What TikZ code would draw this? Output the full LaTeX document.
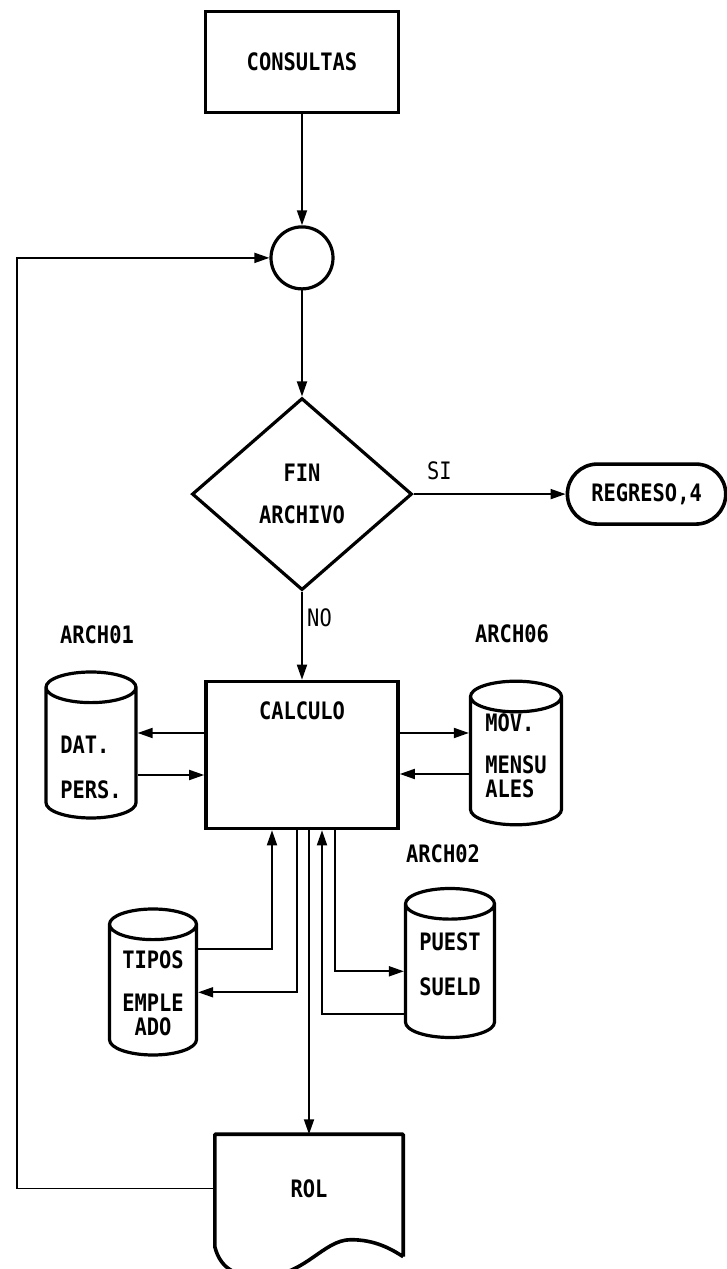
\documentclass[tikz,border=0pt]{standalone}
\usepackage{fontspec}
\usepackage{tikz}
\usetikzlibrary{arrows.meta,positioning,shapes.geometric,shapes.misc}
\newfontfamily\dotfont{DejaVu Sans Mono}[FakeStretch=0.85]

\begin{document}
\begin{tikzpicture}[x=1pt,y=1pt,
  every node/.style={font=\dotfont\bfseries\fontsize{24}{20}\selectfont,align=center},
  procbox/.style={draw,line width=3.6pt,rectangle},
  disk/.style={draw,line width=3.2pt,cylinder,shape border rotate=90,aspect=0.45},
  archlbl/.style={inner sep=0pt},
  flow/.style={line width=1.8pt,-{Triangle[length=15pt,width=10pt]}},
  answer/.style={font=\dotfont\fontsize{24}{20}\selectfont}]
\useasboundingbox (0,0) rectangle (727,1269);
% main column
\node[procbox,minimum width=193pt,minimum height=101pt] (consultas) at (302,1207) {CONSULTAS};
\node[circle,draw,line width=3.2pt,minimum size=62pt,inner sep=0pt,below=111pt of consultas] (junction) {};
\node[diamond,draw,line width=3.2pt,minimum width=220pt,minimum height=192pt,below=106pt of junction] (fin) {FIN\\[22pt]ARCHIVO};
\node[rounded rectangle,draw,line width=3.6pt,minimum width=165pt,minimum height=60pt,right=152pt of fin] (regreso) {REGRESO,4};
\node[procbox,minimum width=192pt,inner ysep=12pt,text height=26pt,text depth=97pt,below=88pt of fin] (calculo) {CALCULO};
\node[minimum width=188pt,minimum height=108pt,below=304pt of calculo,xshift=7pt] (rol) {ROL};
\draw[line width=3.6pt,line join=round] ([yshift=-14pt]rol.south east) -- (rol.north east) -- (rol.north west) -- ([yshift=-4pt]rol.south west)
  .. controls ([xshift=6pt,yshift=-28pt]rol.south west) and ([xshift=24pt,yshift=-34pt]rol.south west) .. ([xshift=46pt,yshift=-34pt]rol.south west)
  .. controls ([xshift=90pt,yshift=-34pt]rol.south west) and ([xshift=108pt,yshift=3pt]rol.south west) .. ([xshift=136pt,yshift=3pt]rol.south west)
  .. controls ([xshift=160pt,yshift=3pt]rol.south west) and ([xshift=176pt,yshift=-6pt]rol.south west) .. ([yshift=-14pt]rol.south east);
% files
\node[disk,minimum width=90pt,minimum height=146pt,anchor=shape center,align=left,
  label={[archlbl,label distance=26pt,xshift=6pt]90:ARCH01}] (arch01) at (91,524) {\mbox{}\\[20pt]DAT.\\[25pt]PERS.};
\node[disk,minimum width=91pt,minimum height=139pt,inner ysep=0pt,anchor=shape center,align=left,
  label={[archlbl,label distance=37pt,xshift=-4pt]90:ARCH06}] (arch06) at (516,516) {MOV.\\[22pt]MENSU\\[4pt]ALES\\[-2pt]\mbox{}};
\node[disk,minimum width=89pt,minimum height=149pt,anchor=shape center,
  label={[archlbl,label distance=24pt,xshift=-7pt]90:ARCH02}] (arch02) at (450,306) {PUEST\\[25pt]SUELD\\[0pt]\mbox{}};
\node[disk,minimum width=87pt,minimum height=146pt,anchor=shape center] (tipos) at (153,287) {TIPOS\\[23pt]EMPLE\\[4pt]ADO};
% connectors
\draw[flow] (consultas) -- (junction);
\draw[flow] (junction) -- (fin);
\draw[flow] (fin.east) -- node[answer,pos=0.17,above=10pt]{SI} (regreso.west);
\draw[flow] (fin.south) -- node[answer,pos=0.3,right=1pt]{NO} (calculo.north);
\draw[flow] ([yshift=22pt]calculo.west) -- ([yshift=22pt]calculo.west -| arch01.0);
\draw[flow] ([yshift=-20pt]calculo.west -| arch01.0) -- ([yshift=-20pt]calculo.west);
\draw[flow] ([yshift=22pt]calculo.east) -- ([yshift=22pt]calculo.east -| arch06.180);
\draw[flow] ([yshift=-19pt]calculo.east -| arch06.180) -- ([yshift=-19pt]calculo.east);
\draw[flow] ([yshift=-119pt]calculo.south -| tipos.0) -| ([xshift=-30pt]calculo.south);
\draw[flow] ([xshift=-5pt]calculo.south) |- ([yshift=-162pt]calculo.south -| tipos.0);
\draw[flow] (rol.north |- calculo.south) -- (rol.north);
\draw[flow] ([yshift=-184pt]calculo.south -| arch02.180) -| ([xshift=20pt]calculo.south);
\draw[flow] ([xshift=33pt]calculo.south) |- ([yshift=-141pt]calculo.south -| arch02.180);
\draw[flow] (rol.west) -| ([xshift=-198pt]rol.west |- junction.west) -- (junction.west);
\end{tikzpicture}
\end{document}
